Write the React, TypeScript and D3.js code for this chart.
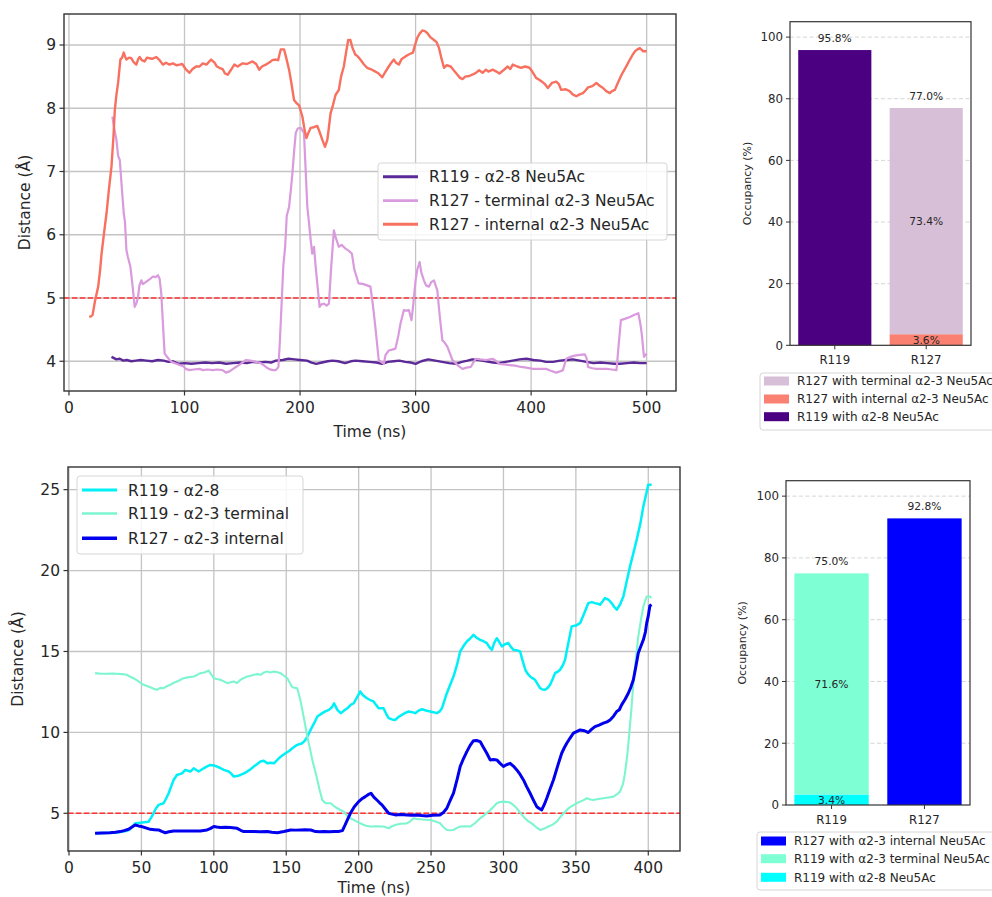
import React from 'react';
import * as d3 from 'd3';

// ---- top: distance traces (ns, Å)
const topR119a28: [number, number][] = [[36.8,4.07],[39,4.05],[41,4.03],[44,4.04],[47,4.01],[50,4.02],[54,4.00],[58,4.01],[62,4.02],[67,4.01],[72,4.00],[77,4.02],[82,4.01],[86,3.99],[90,4.00],[95,3.96],[100,3.97],[106,3.96],[112,3.97],[118,3.98],[124,3.97],[130,3.98],[136,3.96],[142,3.97],[148,3.98],[154,3.97],[159,3.99],[165,3.98],[170,3.99],[175,3.98],[179,4.01],[185,4.02],[190,4.04],[195,4.03],[200,4.02],[206,4.01],[210,3.98],[214,3.96],[219,3.98],[224,4.00],[228,4.01],[233,4.00],[239,3.97],[244,4.00],[248,4.01],[254,4.00],[260,3.99],[266,3.98],[271,3.96],[276,3.99],[281,4.00],[286,4.01],[291,3.99],[296,3.98],[300,3.96],[305,4.00],[311,4.03],[317,4.01],[323,3.99],[329,3.97],[335,3.96],[340,3.99],[345,4.01],[349,4.03],[355,4.02],[361,4.00],[367,3.98],[372,3.97],[378,3.99],[384,4.01],[390,4.03],[396,4.04],[402,4.02],[408,4.01],[413,3.99],[419,3.99],[425,4.01],[431,4.02],[436,4.03],[442,4.01],[448,3.99],[454,3.97],[460,3.98],[466,3.97],[472,3.96],[477,3.96],[483,3.97],[489,3.98],[494,3.97],[500,3.97]];
const topR127term: [number, number][] = [[37.6,7.87],[39,7.70],[41.1,7.50],[42.5,7.25],[44,7.18],[45.5,6.80],[47.4,6.34],[48.5,6.20],[49.7,5.76],[51,5.65],[53.2,5.49],[55,5.20],[56.9,4.86],[58.5,4.92],[59.8,5.02],[61,5.20],[62.6,5.28],[64,5.22],[67,5.26],[70,5.30],[72.7,5.34],[75,5.33],[77,5.36],[78.5,5.30],[79.9,5.07],[81,4.70],[82.8,4.12],[84.5,4.08],[87.1,4.02],[90,3.98],[93,3.96],[95.7,3.94],[99,3.92],[101,3.88],[104.3,3.86],[108,3.87],[112.9,3.88],[116,3.86],[120,3.87],[124.4,3.86],[128,3.87],[133,3.86],[135.9,3.82],[139,3.84],[142,3.88],[144.5,3.91],[148,3.95],[153.2,4.02],[157,4.01],[161.8,3.99],[166,3.97],[170.4,3.91],[173,3.88],[176.1,3.86],[179,3.86],[181.3,3.91],[182.5,4.30],[184.2,4.97],[185.5,5.50],[187.1,5.81],[188.5,6.30],[190.5,6.44],[192,6.70],[193.4,6.97],[195,7.35],[196.3,7.61],[198,7.68],[200.6,7.69],[202,7.65],[203.4,7.61],[204.8,7.05],[206.3,6.44],[207.7,6.20],[209.2,5.92],[210.5,5.70],[212.1,5.81],[213.5,5.50],[214.9,5.23],[216.9,4.86],[218.5,4.90],[220.7,4.91],[223,4.88],[225,4.91],[227,5.50],[229.3,6.07],[231,5.95],[233.6,5.81],[236,5.84],[239.4,5.78],[242,5.75],[244.9,5.70],[247,5.45],[250.7,5.23],[255,5.22],[260.9,5.18],[263,4.90],[265.2,4.54],[268.1,4.02],[272.5,3.96],[274,4.10],[276.8,4.17],[279,4.18],[282.6,4.20],[285,4.40],[287,4.60],[289.9,4.81],[292,4.80],[294.2,4.81],[296.5,4.65],[298,4.90],[300,5.28],[301.5,5.45],[303.5,5.57],[305,5.40],[307.2,5.28],[309,5.20],[311.6,5.18],[313.5,5.25],[315.9,5.28],[318.8,5.12],[321,4.70],[323.2,4.33],[325,4.30],[327.5,4.23],[331.9,4.02],[336.2,3.94],[340.6,3.88],[344,3.90],[347.8,3.91],[350,3.98],[352.2,4.04],[356,4.03],[360.9,4.02],[366.7,4.04],[370,4.00],[372.5,3.96],[377,3.95],[381.2,3.94],[386,3.93],[391.3,3.91],[396,3.90],[401.4,3.88],[407,3.88],[413,3.88],[417,3.85],[421.7,3.82],[425,3.84],[427.5,3.86],[430.4,4.04],[434,4.07],[437.7,4.09],[442,4.10],[446.4,4.11],[448,4.05],[449.3,3.91],[453,3.89],[456.5,3.88],[461,3.88],[465.2,3.88],[470,3.87],[473.9,3.86],[475.5,4.20],[477.7,4.65],[481,4.67],[485.5,4.70],[489,4.73],[492.8,4.76],[494.5,4.60],[495.7,4.44],[497.7,4.07],[500,4.12]];
const topR127int: [number, number][] = [[17.5,4.70],[19,4.71],[20.4,4.73],[22.5,4.95],[25.3,5.18],[27,5.45],[28.2,5.70],[30.5,6.05],[32.5,6.34],[34.5,6.70],[36.8,7.08],[38.5,7.55],[39.7,7.98],[41,8.20],[42.5,8.40],[44.5,8.77],[46,8.80],[47.4,8.88],[48.5,8.82],[49.7,8.77],[52,8.80],[54,8.79],[56,8.73],[58.3,8.69],[60,8.78],[61.2,8.81],[63,8.76],[65.5,8.74],[67.5,8.80],[69.8,8.79],[72,8.78],[75.6,8.81],[78,8.77],[81.3,8.69],[84,8.72],[87,8.69],[90,8.71],[93,8.68],[95.7,8.69],[98,8.70],[101,8.62],[104.3,8.56],[107,8.62],[110,8.66],[113,8.66],[115.8,8.71],[119,8.69],[123,8.77],[126,8.72],[128,8.66],[130.2,8.64],[133,8.62],[135,8.55],[137.4,8.53],[140,8.60],[143.1,8.69],[146,8.66],[150.3,8.71],[154,8.70],[158.9,8.74],[162,8.70],[164.7,8.61],[167,8.66],[170.4,8.69],[174,8.73],[176,8.76],[179,8.77],[181,8.76],[183.3,8.93],[186.2,8.93],[188,8.80],[190.5,8.61],[192.5,8.40],[194.8,8.13],[197,8.08],[199.1,8.05],[202,7.87],[204,7.65],[205.5,7.53],[207,7.60],[209.2,7.69],[212,7.70],[214.9,7.72],[217,7.62],[219.3,7.50],[221.6,7.39],[223.6,7.50],[225,7.70],[226.4,7.92],[228.5,8.05],[230.7,8.21],[233.6,8.29],[235.5,8.50],[237.9,8.66],[240,8.90],[241.7,9.08],[243.5,9.08],[245.5,8.95],[247.8,8.85],[250,8.82],[252.2,8.77],[255,8.70],[258,8.64],[261,8.62],[265.2,8.58],[268,8.55],[271,8.49],[274,8.58],[276.8,8.66],[279,8.72],[281.2,8.77],[283,8.72],[285.5,8.69],[288,8.78],[291.3,8.82],[294,8.85],[297.7,8.88],[299.5,9.00],[301.4,9.11],[303.5,9.18],[305.8,9.23],[308,9.22],[310.1,9.19],[313,9.12],[315.9,9.08],[318,9.05],[320.3,8.95],[322.5,8.78],[324.6,8.64],[327,8.68],[330.4,8.66],[333,8.60],[336.2,8.53],[338.5,8.48],[340.6,8.46],[343,8.50],[346.4,8.51],[349,8.53],[352.2,8.56],[355,8.60],[358,8.56],[360.9,8.61],[363,8.58],[366.7,8.61],[370,8.58],[372.5,8.55],[376,8.60],[379.7,8.66],[382,8.62],[384.1,8.69],[388,8.66],[391.3,8.64],[395,8.66],[398.6,8.64],[401,8.58],[404.3,8.48],[407,8.45],[410.1,8.41],[412,8.38],[414.5,8.32],[418,8.40],[421.7,8.42],[424,8.38],[426.1,8.29],[430,8.30],[433.3,8.27],[436,8.22],[439.1,8.19],[442,8.22],[444.9,8.24],[447,8.28],[449.3,8.33],[453,8.35],[456.5,8.40],[459,8.36],[462.3,8.32],[465,8.27],[468.1,8.24],[470,8.27],[472.5,8.29],[475,8.40],[478.3,8.53],[482,8.65],[485.5,8.77],[488,8.85],[489.9,8.90],[492,8.93],[494.2,8.95],[497,8.90],[500,8.90]];

// ---- bottom: distance traces
const botR119a28: [number, number][] = [[18,3.76],[23,3.78],[28.4,3.80],[33,3.82],[37.6,3.87],[40,3.92],[42.2,4.01],[44,4.20],[45.7,4.38],[49.2,4.42],[52,4.45],[54.9,4.48],[56.5,4.70],[58.4,5.0],[60,5.30],[61.9,5.52],[65.3,5.62],[67,5.90],[68.8,6.24],[70.5,6.65],[72.2,7.06],[74.5,7.37],[78,7.47],[80.3,7.68],[83.8,7.58],[86.1,7.78],[89.5,7.58],[93,7.78],[95,7.88],[97.6,7.99],[100,7.95],[102.2,7.89],[104.5,7.80],[106.9,7.68],[110.3,7.58],[112,7.45],[113.8,7.27],[116,7.30],[118.4,7.37],[120.5,7.45],[123,7.58],[125,7.70],[127.6,7.89],[130,8.05],[132.2,8.20],[134.5,8.25],[136.9,8.09],[139,8.12],[141.5,8.09],[144.9,8.40],[147,8.55],[149.5,8.71],[152,8.85],[154.2,9.02],[157.6,9.23],[161.1,9.33],[163,9.50],[164.5,9.74],[166,10.00],[168,10.36],[170,10.70],[171.5,10.98],[174.9,11.19],[177,11.30],[179.5,11.39],[181.5,11.55],[183,11.80],[185.3,11.39],[187.6,11.19],[190,11.35],[192.2,11.49],[194.5,11.70],[196.6,11.80],[198.5,12.10],[201.1,12.53],[203,12.30],[205.7,12.11],[208,12.00],[210.3,11.91],[212,11.70],[213.8,11.49],[217.2,11.49],[219,11.15],[220.7,10.88],[223,10.80],[225.3,10.77],[227.5,10.95],[229.9,11.08],[232,11.20],[234.5,11.29],[237,11.25],[239.1,11.19],[241.5,11.35],[243.7,11.43],[246.5,11.35],[249.4,11.29],[251.5,11.25],[254,11.19],[256,11.30],[257.5,11.49],[259,11.90],[260.9,12.42],[263,12.90],[265.5,13.45],[268,14.20],[270.1,15.0],[272.5,15.35],[274.7,15.62],[277,15.80],[279.3,16.03],[281.5,15.85],[283.9,15.72],[286,15.65],[288.5,15.52],[290,15.30],[292,15.10],[293.5,15.50],[295.4,15.82],[297,15.60],[298.9,15.31],[301,15.45],[303.4,15.52],[305,15.30],[306.9,15.10],[309,15.08],[311.5,15.0],[313,14.50],[315.1,13.87],[316.5,13.65],[318.4,13.45],[320,13.35],[321.8,13.25],[323.5,13.00],[325.3,12.73],[327,12.65],[328.7,12.63],[330.5,12.75],[332.2,12.94],[334,13.30],[335.6,13.66],[337.5,13.75],[339.1,13.87],[341,14.15],[342.5,14.48],[344.5,15.40],[347.1,16.55],[350,16.60],[352.9,16.75],[355.5,17.30],[358.6,17.99],[361,18.05],[363.2,17.99],[365,17.95],[366.7,17.89],[368.5,18.10],[370.1,18.30],[372.5,18.20],[374.7,17.99],[376.5,17.75],[378.2,17.58],[380.5,17.90],[382.8,18.40],[385,19.30],[387.4,20.26],[389.5,21.00],[392,21.91],[394.5,22.90],[396.6,23.97],[398.5,24.70],[400,25.31],[402.3,25.31]];
const botR119a23term: [number, number][] = [[18,13.66],[22,13.62],[26.1,13.62],[30,13.64],[33,13.62],[36.5,13.60],[39.9,13.56],[42,13.45],[44.5,13.35],[48,13.15],[51.5,12.94],[56.1,12.79],[58.5,12.70],[60.7,12.63],[63,12.75],[65.3,12.73],[67.5,12.85],[69.9,12.94],[72,13.05],[74.5,13.14],[77,13.25],[79.2,13.35],[82,13.40],[86.1,13.45],[88.5,13.55],[90.7,13.66],[93.5,13.70],[96.5,13.82],[98,13.60],[100,13.35],[102,13.30],[104.5,13.25],[107,13.15],[109.2,13.04],[111.5,13.10],[113.8,13.14],[116,13.05],[118.4,13.25],[120.5,13.35],[123,13.45],[125.5,13.50],[127.6,13.56],[130,13.60],[132.2,13.56],[134.5,13.70],[136.9,13.76],[139,13.70],[141.5,13.76],[144,13.72],[146.1,13.66],[148.5,13.50],[150.7,13.35],[152.5,13.05],[154.2,12.79],[157.6,12.73],[159.5,12.10],[161.1,11.39],[163,10.50],[164.5,9.74],[166.5,8.95],[168,8.30],[170,7.60],[171.5,7.06],[173,6.45],[174.9,5.82],[177.2,5.62],[180.7,5.62],[183,5.45],[185.3,5.31],[187.4,5.20],[189.9,5.10],[192,4.85],[194.3,4.69],[197.5,4.55],[201.1,4.38],[204.5,4.25],[208,4.18],[212,4.20],[217.2,4.18],[220.7,4.07],[223,4.20],[225.3,4.28],[229,4.35],[233.3,4.38],[235.5,4.50],[237.9,4.69],[240,4.65],[242.5,4.63],[246,4.60],[249.4,4.59],[253,4.50],[256.3,4.38],[258.5,4.15],[260.9,3.97],[263,3.95],[265.5,3.97],[268,4.10],[270.1,4.18],[273.5,4.20],[277,4.18],[280.5,4.40],[283.9,4.69],[287,4.90],[289.7,5.10],[292.5,5.35],[295.4,5.62],[297.5,5.70],[300,5.72],[302.5,5.70],[304.6,5.66],[307,5.50],[309.2,5.31],[311.5,5.05],[313.8,4.79],[316.5,4.55],[319.5,4.38],[322.5,4.15],[325.3,3.97],[328,4.05],[331,4.18],[334,4.30],[336.8,4.48],[339.5,4.80],[342.5,5.10],[345.5,5.35],[348.3,5.51],[350.5,5.62],[352.9,5.72],[355,5.80],[357.5,5.93],[360,5.85],[362.1,5.82],[365.5,5.88],[369,5.93],[372.5,5.98],[375.9,6.03],[378,6.15],[380.5,6.34],[382.5,6.80],[383.9,7.47],[385.5,8.60],[386.9,9.95],[388.5,11.60],[389.7,13.04],[391.5,14.60],[393.1,15.93],[395,17.00],[396.6,17.78],[398.9,18.40],[401.1,18.40],[402.3,18.30]];
const botR127a23int: [number, number][] = [[18,3.76],[23,3.78],[28.4,3.80],[32,3.83],[35.3,3.87],[38,3.93],[41.1,4.01],[43.5,4.15],[45.7,4.28],[48,4.22],[50.3,4.18],[53,4.10],[56.1,4.01],[59,3.99],[61.9,3.97],[64,3.88],[66.5,3.80],[69,3.86],[72.2,3.91],[76,3.90],[81.5,3.91],[86,3.90],[90.7,3.91],[95.3,3.97],[97.5,4.05],[100,4.18],[102,4.15],[104.5,4.12],[108,4.13],[111.5,4.12],[116.1,4.07],[118.5,3.95],[120.7,3.87],[124,3.88],[127.6,3.87],[132,3.86],[136.9,3.87],[140,3.83],[143.8,3.80],[148.4,3.87],[153,3.97],[156.5,3.96],[159.9,3.97],[163,3.98],[166.9,3.97],[170.3,3.87],[173,3.86],[176.1,3.87],[180,3.86],[183,3.87],[186,3.88],[188.8,3.93],[190.5,4.25],[192.2,4.59],[194.3,5.0],[197,5.40],[200,5.72],[202,5.88],[204.6,6.03],[206.5,6.15],[208.5,6.24],[210.5,6.00],[212.6,5.82],[214.5,5.65],[216.1,5.52],[218.5,5.25],[220.7,5.0],[223,4.95],[225.3,4.90],[229,4.92],[233.3,4.90],[236.5,4.88],[240.2,4.90],[243.5,4.86],[247.1,4.84],[251,4.88],[256.3,4.90],[258.5,5.05],[260.9,5.31],[263,5.75],[265.5,6.24],[268,7.10],[270.1,7.89],[272.5,8.40],[274.7,8.81],[277,9.20],[279.3,9.49],[281.5,9.50],[283.9,9.43],[286,9.10],[288.5,8.71],[290.8,8.30],[293,8.32],[295.4,8.30],[297.5,8.10],[300,7.89],[302,8.00],[304.6,8.09],[307,7.90],[309.2,7.68],[311.5,7.40],[313.8,7.06],[316,6.65],[318.4,6.24],[320.5,5.85],[323,5.41],[324.7,5.30],[326.4,5.21],[328,5.50],[329.9,5.93],[332,6.45],[334.5,7.06],[337.5,7.95],[340.2,8.71],[342,9.05],[343.7,9.33],[346,9.65],[348.3,9.95],[350.5,10.05],[352.9,10.15],[356,10.10],[358.6,9.99],[361,10.20],[363.2,10.36],[366,10.45],[369,10.57],[371.5,10.65],[373.6,10.77],[376,11.00],[378.2,11.29],[380,11.40],[381.6,11.70],[384,12.05],[386.2,12.42],[388,12.80],[389.7,13.25],[391.5,14.10],[393.1,14.90],[395,15.35],[396.6,15.72],[398,16.20],[398.9,16.75],[400,17.20],[401.1,17.82],[402.3,17.89]];

const cutoff = 5;

// ---- occupancy bars (%)
const residues = ['R119', 'R127'];
// top: [R119, R127]
const topA28 = [95.8, 0];
const topInt = [0, 3.6];
const topTerm = [0, 73.4];
// bottom
const botA28 = [3.4, 0];
const botTerm = [71.6, 0];
const botInt = [0, 92.8];

const topXTicks = [0, 100, 200, 300, 400, 500];
const topYTicks = [4, 5, 6, 7, 8, 9];
const botXTicks = [0, 50, 100, 150, 200, 250, 300, 350, 400];
const botYTicks = [5, 10, 15, 20, 25];
const occTicks = [0, 20, 40, 60, 80, 100];

const FONT = 'DejaVu Sans, sans-serif';
const INK = '#262626';

type Series = { name: string; data: [number, number][]; color: string; width: number };

function LineChart(p: {
  left: number; right: number; top: number; bottom: number;
  xDomain: [number, number]; yDomain: [number, number];
  xTicks: number[]; yTicks: number[]; series: Series[];
  legend: { x: number; y: number; w: number; h: number; rowY: number[] };
  xLabelY: number; yLabelX: number;
}) {
  const x = d3.scaleLinear().domain(p.xDomain).range([p.left, p.right]);
  const y = d3.scaleLinear().domain(p.yDomain).range([p.bottom, p.top]);
  const line = d3.line<[number, number]>().x(d => x(d[0])).y(d => y(d[1]));
  const fs = 15.5;
  return (
    <g fontFamily={FONT} fill={INK}>
      {p.xTicks.map(t => (
        <line key={'gx' + t} x1={x(t)} x2={x(t)} y1={p.top} y2={p.bottom} stroke="#c4c4c4" strokeWidth={1.3} />
      ))}
      {p.yTicks.map(t => (
        <line key={'gy' + t} x1={p.left} x2={p.right} y1={y(t)} y2={y(t)} stroke="#c4c4c4" strokeWidth={1.3} />
      ))}
      <line x1={p.left} x2={p.right} y1={y(cutoff)} y2={y(cutoff)} stroke="#ff3030" strokeWidth={1.5} strokeDasharray="5.5,2.4" />
      {p.series.map(s => (
        <path key={s.name} d={line(s.data) || ''} fill="none" stroke={s.color} strokeWidth={s.width} strokeLinejoin="round" />
      ))}
      <rect x={p.left} y={p.top} width={p.right - p.left} height={p.bottom - p.top} fill="none" stroke="#333" strokeWidth={1.4} />
      {p.xTicks.map(t => (
        <g key={'tx' + t}>
          <line x1={x(t)} x2={x(t)} y1={p.bottom} y2={p.bottom + 4.5} stroke="#333" strokeWidth={1.2} />
          <text x={x(t)} y={p.bottom + 22} textAnchor="middle" fontSize={fs}>{t}</text>
        </g>
      ))}
      {p.yTicks.map(t => (
        <g key={'ty' + t}>
          <line x1={p.left - 4.5} x2={p.left} y1={y(t)} y2={y(t)} stroke="#333" strokeWidth={1.2} />
          <text x={p.left - 8} y={y(t) + 5.5} textAnchor="end" fontSize={fs}>{t}</text>
        </g>
      ))}
      <text x={(p.left + p.right) / 2} y={p.xLabelY} textAnchor="middle" fontSize={fs}>Time (ns)</text>
      <text transform={`translate(${p.yLabelX},${(p.top + p.bottom) / 2}) rotate(-90)`} textAnchor="middle" fontSize={fs}>Distance (Å)</text>
      <rect x={p.legend.x} y={p.legend.y} width={p.legend.w} height={p.legend.h} rx={3} fill="white" fillOpacity={0.85} stroke="#d6d6d6" />
      {p.series.map((s, i) => (
        <g key={'lg' + s.name}>
          <line x1={p.legend.x + 5} x2={p.legend.x + 40} y1={p.legend.rowY[i]} y2={p.legend.rowY[i]} stroke={s.color} strokeWidth={s.width + 0.6} />
          <text x={p.legend.x + 51} y={p.legend.rowY[i] + 5.5} fontSize={fs}>{s.name}</text>
        </g>
      ))}
    </g>
  );
}

type Seg = { name: string; values: number[]; color: string };

function OccupancyChart(p: {
  left: number; right: number; top: number; bottom: number;
  stack: Seg[]; legendOrder: Seg[];
  legend: { x: number; y: number; h: number; rowY: number[] };
  yLabelX: number;
}) {
  const x = d3.scaleLinear().domain([-0.49, 1.49]).range([p.left, p.right]);
  const y = d3.scaleLinear().domain([0, 105]).range([p.bottom, p.top]);
  const bw = x(0.8) - x(0);
  const totals = residues.map((_, i) => d3.sum(p.stack, s => s.values[i]));
  const nonzero = residues.map((_, i) => p.stack.filter(s => s.values[i] > 0).length);
  return (
    <g fontFamily={FONT} fill={INK}>
      {occTicks.slice(1).map(t => (
        <line key={'g' + t} x1={p.left} x2={p.right} y1={y(t)} y2={y(t)} stroke="#d0d0d0" strokeDasharray="4,2.5" strokeWidth={0.9} />
      ))}
      {residues.map((r, i) => {
        let base = 0;
        return (
          <g key={r}>
            {p.stack.map(s => {
              const v = s.values[i];
              const y0 = base;
              base += v;
              if (v <= 0) return null;
              return (
                <g key={s.name}>
                  <rect x={x(i) - bw / 2} y={y(y0 + v)} width={bw} height={y(y0) - y(y0 + v)} fill={s.color} />
                  {nonzero[i] > 1 && (
                    <text x={x(i)} y={y(y0 + v / 2) + 4} textAnchor="middle" fontSize={10.7}>{v.toFixed(1)}%</text>
                  )}
                </g>
              );
            })}
            <text x={x(i)} y={y(totals[i]) - 8} textAnchor="middle" fontSize={10.7}>{totals[i].toFixed(1)}%</text>
          </g>
        );
      })}
      <rect x={p.left} y={p.top} width={p.right - p.left} height={p.bottom - p.top} fill="none" stroke="#333" strokeWidth={1.2} />
      {occTicks.map(t => (
        <g key={'t' + t}>
          <line x1={p.left - 4} x2={p.left} y1={y(t)} y2={y(t)} stroke="#333" />
          <text x={p.left - 7} y={y(t) + 4.3} textAnchor="end" fontSize={11.8}>{t}</text>
        </g>
      ))}
      {residues.map((r, i) => (
        <g key={'xr' + r}>
          <line x1={x(i)} x2={x(i)} y1={p.bottom} y2={p.bottom + 4} stroke="#333" />
          <text x={x(i)} y={p.bottom + 19} textAnchor="middle" fontSize={11.8}>{r}</text>
        </g>
      ))}
      <text transform={`translate(${p.yLabelX},${(p.top + p.bottom) / 2}) rotate(-90)`} textAnchor="middle" fontSize={11}>Occupancy (%)</text>
      <rect x={p.legend.x} y={p.legend.y} width={260} height={p.legend.h} rx={3} fill="white" stroke="#d6d6d6" />
      {p.legendOrder.map((s, i) => (
        <g key={'lg' + s.name}>
          <rect x={p.legend.x + 4} y={p.legend.rowY[i] - 4.5} width={25} height={9} fill={s.color} />
          <text x={p.legend.x + 37} y={p.legend.rowY[i] + 4.3} fontSize={12}>{s.name}</text>
        </g>
      ))}
    </g>
  );
}

export default function App() {
  const topSeries: Series[] = [
    { name: 'R119 - α2-8 Neu5Ac', data: topR119a28, color: '#5b2a98', width: 2.4 },
    { name: 'R127 - terminal α2-3 Neu5Ac', data: topR127term, color: '#d99ade', width: 2.2 },
    { name: 'R127 - internal α2-3 Neu5Ac', data: topR127int, color: '#f8705f', width: 2.4 },
  ];
  const botSeries: Series[] = [
    { name: 'R119 - α2-8', data: botR119a28, color: '#00f0f8', width: 2.5 },
    { name: 'R119 - α2-3 terminal', data: botR119a23term, color: '#7cf5d0', width: 2.1 },
    { name: 'R127 - α2-3 internal', data: botR127a23int, color: '#0000ee', width: 3 },
  ];
  const segA28 = { name: 'R119 with α2-8 Neu5Ac', values: topA28, color: '#4b0082' };
  const segInt = { name: 'R127 with internal α2-3 Neu5Ac', values: topInt, color: '#fa8072' };
  const segTerm = { name: 'R127 with terminal α2-3 Neu5Ac', values: topTerm, color: '#d8bfd8' };
  const bA28 = { name: 'R119 with α2-8 Neu5Ac', values: botA28, color: '#00ffff' };
  const bTerm = { name: 'R119 with α2-3 terminal Neu5Ac', values: botTerm, color: '#7fffd4' };
  const bInt = { name: 'R127 with α2-3 internal Neu5Ac', values: botInt, color: '#0000ff' };

  return (
    <svg width={992} height={897} style={{ position: 'absolute', left: 0, top: 0, background: 'white' }}>
      <LineChart left={64} right={676} top={14} bottom={391}
        xDomain={[-4.3, 525.4]} yDomain={[3.53, 9.49]}
        xTicks={topXTicks} yTicks={topYTicks} series={topSeries}
        legend={{ x: 378, y: 163, w: 289, h: 77, rowY: [176.7, 200.7, 224.3] }}
        xLabelY={437} yLabelX={30} />
      <LineChart left={68} right={680} top={467} bottom={851}
        xDomain={[-0.7, 421.9]} yDomain={[2.67, 26.4]}
        xTicks={botXTicks} yTicks={botYTicks} series={botSeries}
        legend={{ x: 77, y: 476, w: 226, h: 78, rowY: [490, 513.5, 538.3] }}
        xLabelY={892.5} yLabelX={23} />
      <OccupancyChart left={790} right={971} top={21.7} bottom={345.3}
        stack={[segA28, segInt, segTerm]} legendOrder={[segTerm, segInt, segA28]}
        legend={{ x: 760, y: 373, h: 57, rowY: [381, 399, 416.7] }} yLabelX={750.5} />
      <OccupancyChart left={786} right={970} top={480.7} bottom={805}
        stack={[bA28, bTerm, bInt]} legendOrder={[bInt, bTerm, bA28]}
        legend={{ x: 757, y: 832, h: 58, rowY: [841, 858.7, 877.3] }} yLabelX={745.5} />
    </svg>
  );
}
